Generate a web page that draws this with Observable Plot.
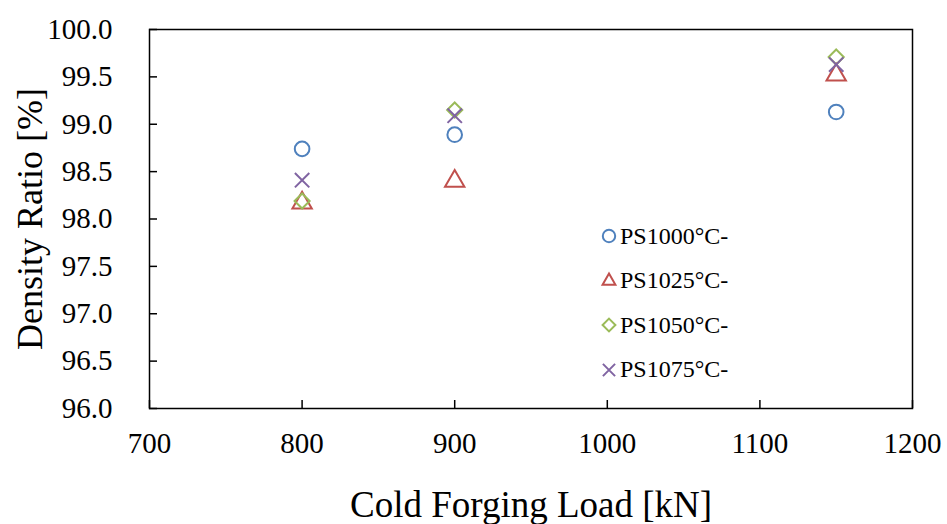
<!DOCTYPE html>
<html><head><meta charset="utf-8">
<script src="https://cdn.jsdelivr.net/npm/d3@7"></script>
<script src="https://cdn.jsdelivr.net/npm/@observablehq/plot@0.6"></script>
<style>
body{margin:0;background:#fff;}
#wrap{position:relative;width:947px;height:524px;font-family:"Liberation Serif","Times New Roman",serif;}
#wrap svg, #wrap svg text{font-family:"Liberation Serif","Times New Roman",serif !important;font-variant:normal !important;}
#legend{position:absolute;left:599px;top:214px;}
.item{display:flex;align-items:center;height:44.5px;font-size:24px;color:#000;white-space:nowrap;}
.item svg{margin-right:1px;}
</style></head><body><div id="wrap"></div>
<script>
// ---- data ----
const loads = [800, 900, 1150];
const seriesNames = ["PS1000°C-", "PS1025°C-", "PS1050°C-", "PS1075°C-"];
const ps1000 = [98.74, 98.89, 99.13];
const ps1025 = [98.17, 98.40, 99.52];
const ps1050 = [98.19, 99.15, 99.71];
const ps1075 = [98.41, 99.09, 99.63];
const xTicks = [700, 800, 900, 1000, 1100, 1200];
const yTicks = [96.0, 96.5, 97.0, 97.5, 98.0, 98.5, 99.0, 99.5, 100.0];
const xTitle = "Cold Forging Load [kN]";
const yTitle = "Density Ratio [%]";

// ---- styles ----
const styles = [
  {symbol: "circle",   d3sym: d3.symbolCircle,    color: "#4F81BD", r: 7.3},
  {symbol: "triangle", d3sym: d3.symbolTriangle2, color: "#C0504D", r: 7.2},
  {symbol: "diamond2", d3sym: d3.symbolDiamond2,  color: "#9BBB59", r: 6.8},
  {symbol: "times",    d3sym: d3.symbolTimes,     color: "#8064A2", r: 6.6}
];
const seriesValues = [ps1000, ps1025, ps1050, ps1075];
const rows = seriesValues.flatMap((vals, s) =>
  loads.map((x, i) => ({series: seriesNames[s], s, load: x, value: vals[i]})));

const font = '"Liberation Serif","Times New Roman",serif';

const dotMarks = styles.map((st, k) =>
  Plot.dot(rows.filter(d => d.s === k), {
    x: "load", y: "value", symbol: st.symbol, r: st.r,
    stroke: st.color, strokeWidth: 2, fill: "none"
  }));

const chart = Plot.plot({
  width: 947, height: 524,
  marginLeft: 149, marginRight: 35, marginTop: 29, marginBottom: 116,
  style: {fontFamily: font, background: "#fff", color: "#000", overflow: "visible"},
  x: {domain: [700, 1200]},
  y: {domain: [96, 100]},
  marks: [
    Plot.frame({stroke: "#000", strokeWidth: 1.5}),
    // inward ticks
    Plot.axisX({ticks: xTicks, tickSize: 8, dy: -8, tickFormat: () => "", label: null, strokeWidth: 1.5}),
    Plot.axisY({ticks: yTicks, tickSize: 8, dx: 8, tickFormat: () => "", label: null, strokeWidth: 1.5}),
    // tick labels
    Plot.axisX({ticks: xTicks, tickSize: 0, tickPadding: 24, fontSize: 29, fontFamily: font, label: null, tickFormat: d => String(d)}),
    Plot.axisY({ticks: yTicks, tickSize: 0, tickPadding: 37, fontSize: 29, fontFamily: font, label: null, tickFormat: d => d.toFixed(1)}),
    // titles
    Plot.text([xTitle], {text: d => d, frameAnchor: "bottom", dy: 97, fontSize: 37, fontFamily: font, textAnchor: "middle", lineAnchor: "middle", fill: "#000"}),
    Plot.text([yTitle], {text: d => d, frameAnchor: "left", dx: -119, rotate: -90, fontSize: 36, fontFamily: font, textAnchor: "middle", lineAnchor: "middle", fill: "#000"}),
    ...dotMarks
  ]
});

const wrap = document.getElementById("wrap");
wrap.appendChild(chart);

// legend
const legend = document.createElement("div");
legend.id = "legend";
styles.forEach((st, k) => {
  const item = document.createElement("div");
  item.className = "item";
  const size = Math.PI * (st.r * 0.85) ** 2;
  const path = d3.symbol(st.d3sym, size)();
  item.innerHTML = `<svg width="20" height="20" viewBox="-10 -10 20 20"><path d="${path}" fill="none" stroke="${st.color}" stroke-width="2"/></svg><span>${seriesNames[k]}</span>`;
  legend.appendChild(item);
});
wrap.appendChild(legend);
</script>
</body></html>
